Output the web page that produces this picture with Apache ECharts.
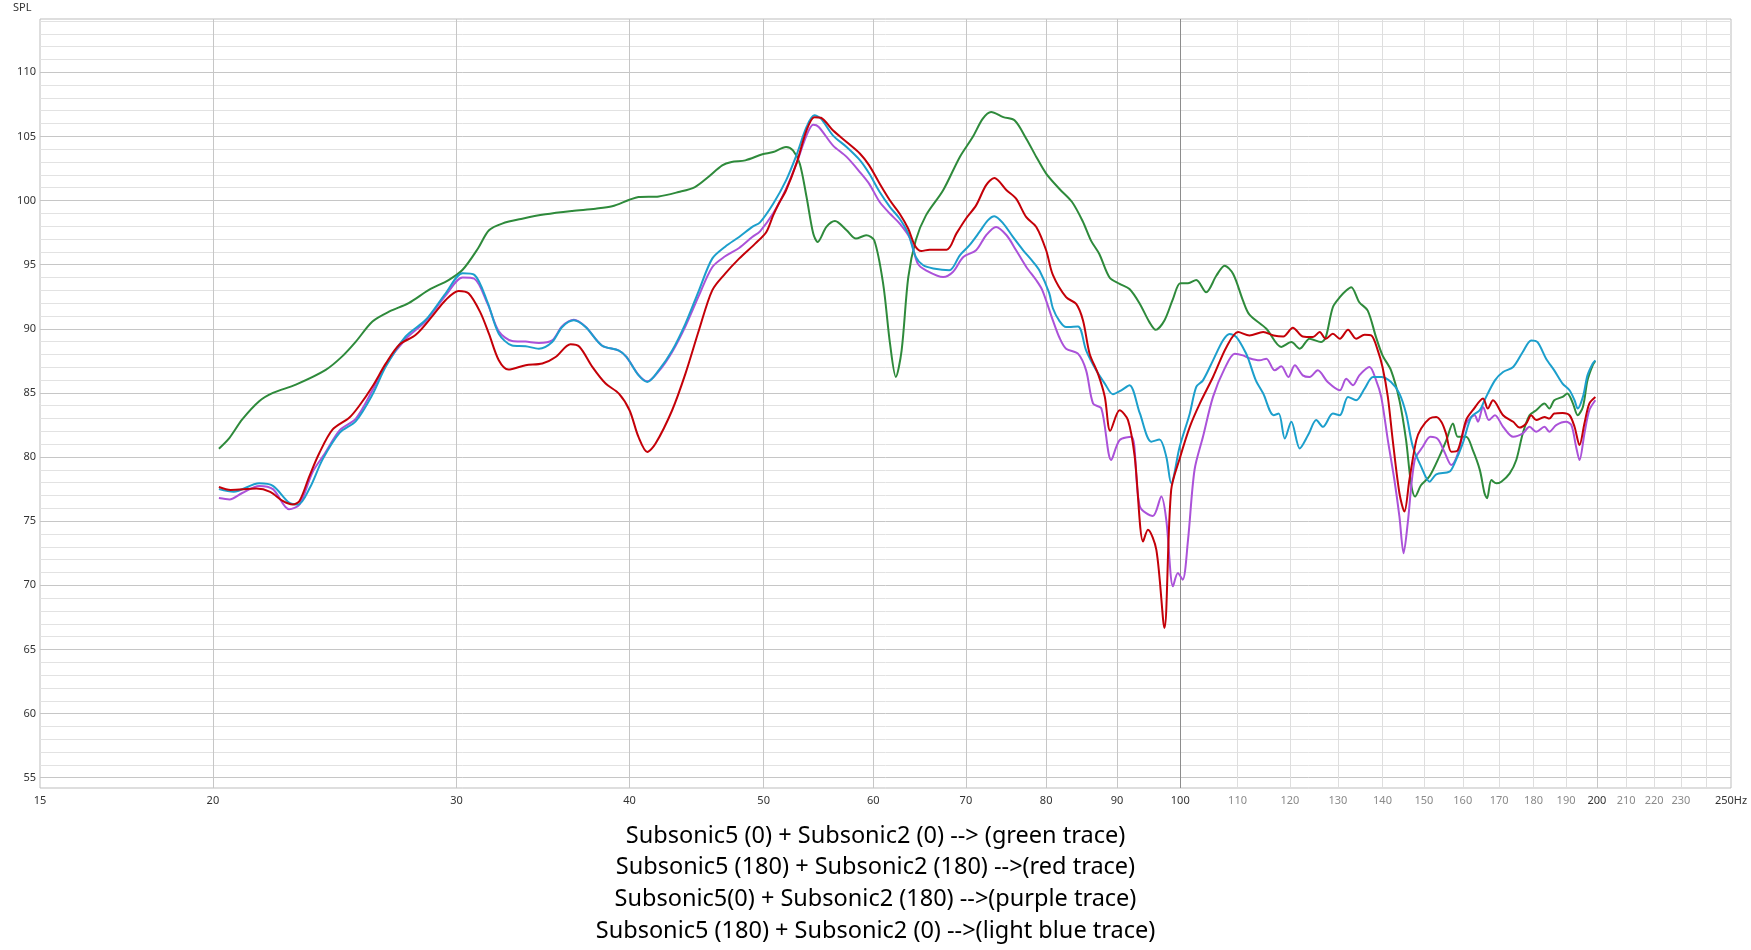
<!DOCTYPE html>
<html>
<head>
<meta charset="utf-8">
<title>Subsonic phase comparison</title>
<script src="https://cdn.jsdelivr.net/npm/echarts@6/dist/echarts.min.js"></script>
<style>
html, body { margin: 0; padding: 0; background: #fff; }
#chart { width: 1751px; height: 950px; }
</style>
</head>
<body>
<div id="chart"></div>
<script>
// SPL traces (Hz / dB)
var greenHz = [20.2,20.56,21.0,21.6,22.1,22.96,24.13,24.8,25.37,26.08,26.83,27.7,28.65,29.6,30.3,31.1,31.66,32.36,33.46,34.78,36.36,37.8,38.86,40.0,40.6,42.0,43.4,44.6,45.6,46.67,47.4,48.5,49.9,50.8,51.9,52.5,53.1,53.7,54.3,54.7,55.5,56.3,57.4,58.3,59.3,60.1,61.0,61.7,62.3,62.9,63.6,64.4,65.5,67.4,69.3,70.8,72.0,73.0,74.5,75.9,77.4,78.7,80.0,81.8,83.5,85.0,86.2,87.4,88.9,90.4,91.9,93.5,95.0,96.0,97.4,98.8,100.0,101.3,102.7,104.4,106.2,107.65,109.2,111.0,112.2,115.4,118.3,120.3,122.0,124.0,126.4,127.4,128.9,130.4,131.8,132.9,134.7,136.6,138.5,140.0,142.0,144.0,145.6,146.8,147.8,149.3,151.4,153.9,155.7,157.4,158.7,160.9,162.7,164.6,165.9,166.6,167.8,169.2,170.6,173.0,174.9,176.8,178.8,180.8,183.3,184.8,186.3,188.9,190.4,192.2,193.7,195.4,196.9,198.6,199.5];
var greenDb = [80.65,81.5,82.93,84.35,85.0,85.65,86.8,87.85,89.0,90.57,91.35,92.0,93.03,93.8,94.6,96.3,97.68,98.2,98.58,98.92,99.18,99.36,99.55,100.06,100.27,100.32,100.66,101.05,101.83,102.74,103.0,103.13,103.6,103.78,104.17,103.9,102.87,100.27,97.42,96.77,97.94,98.4,97.68,97.03,97.29,96.9,93.5,88.84,86.25,88.3,94.0,96.9,98.84,100.8,103.4,104.95,106.38,106.9,106.5,106.25,104.82,103.4,102.1,100.9,99.9,98.4,96.87,95.83,94.0,93.5,93.1,91.94,90.52,89.92,90.65,92.33,93.55,93.55,93.8,92.85,94.15,94.92,94.27,92.2,91.1,90.0,88.58,88.96,88.45,89.22,88.96,89.35,91.68,92.46,92.98,93.24,92.07,91.42,89.35,87.93,86.76,84.43,81.32,77.95,76.92,77.82,78.5,80.05,81.32,82.62,81.58,81.58,80.54,79.0,77.18,76.79,78.21,77.95,78.08,78.73,79.77,81.84,83.26,83.65,84.17,83.78,84.43,84.69,84.95,84.17,83.26,83.91,85.98,87.15,87.49];

var redHz = [20.2,20.6,21.5,22.0,22.46,22.84,23.1,23.48,23.87,24.41,25.09,25.5,26.08,26.67,27.27,28.03,28.8,29.46,30.1,30.6,31.2,31.66,32.18,32.7,33.65,34.6,35.37,36.26,36.8,37.6,38.44,39.3,40.0,40.6,41.2,41.77,42.94,43.9,44.9,45.9,46.9,48.0,49.3,50.2,50.8,51.3,51.9,52.8,53.7,54.4,55.0,56.1,57.4,58.7,59.6,60.65,61.7,62.7,63.6,64.3,65.0,65.9,67.8,68.9,70.0,71.2,72.4,73.4,74.9,76.1,77.4,78.7,80.0,80.9,82.7,84.1,85.06,86.0,87.2,88.2,89.0,90.4,91.67,92.7,94.0,94.76,96.1,97.4,98.5,100.0,101.6,103.3,105.6,108.0,110.1,112.2,114.8,116.8,118.7,120.6,122.6,124.7,126.1,127.4,128.9,130.4,132.2,134.0,135.9,137.4,138.9,140.0,141.25,142.4,144.0,145.2,146.4,148.1,149.3,151.4,153.1,154.5,155.6,157.0,158.7,160.9,162.7,165.5,166.8,168.25,171.1,174.0,175.85,177.8,179.3,180.8,183.3,184.8,186.3,188.9,191.1,192.7,194.3,195.9,197.5,199.5];
var redDb = [77.67,77.44,77.54,77.28,76.58,76.3,76.58,78.5,80.3,82.15,83.06,83.96,85.5,87.3,88.76,89.53,90.96,92.25,92.95,92.77,91.3,89.6,87.55,86.82,87.16,87.29,87.8,88.79,88.6,87.03,85.73,84.95,83.65,81.57,80.4,81.05,83.65,86.5,89.9,93.0,94.3,95.47,96.64,97.5,98.84,99.8,100.8,102.87,105.47,106.5,106.45,105.47,104.56,103.65,102.74,101.31,100.0,98.97,97.8,96.5,96.06,96.17,96.17,97.42,98.58,99.62,101.2,101.75,100.8,100.14,98.7,97.94,96.12,94.2,92.46,91.94,90.65,88.06,86.5,84.7,82.05,83.65,82.88,80.03,73.42,74.33,72.77,66.68,77.44,80.03,82.36,84.17,86.24,88.58,89.74,89.48,89.74,89.48,89.4,90.08,89.4,89.35,89.74,89.22,89.61,89.22,89.92,89.22,89.53,89.48,88.32,87.02,84.69,81.32,77.18,75.75,78.21,81.32,82.23,83.0,83.13,82.7,81.84,80.41,80.54,82.88,83.65,84.56,83.78,84.43,83.26,82.75,82.3,82.62,83.26,82.88,83.13,83.0,83.39,83.44,83.26,82.36,80.93,82.62,84.17,84.69];

var purpleHz = [20.2,20.56,21.0,21.6,22.1,22.7,23.1,23.6,24.1,24.7,25.37,26.08,26.67,27.56,28.5,29.46,30.3,30.9,31.6,32.18,32.9,33.65,34.4,35.17,35.76,36.46,37.18,38.2,39.3,39.8,40.6,41.2,42.0,42.94,43.9,44.9,45.9,46.9,48.0,49.06,49.7,50.8,51.9,52.8,53.7,54.3,54.8,56.1,57.4,58.7,59.6,60.65,61.7,62.7,63.8,64.6,65.5,67.4,68.5,69.7,71.2,72.4,73.6,74.9,76.1,77.4,78.7,79.5,80.9,81.8,82.7,84.35,85.5,86.5,87.7,89.15,90.4,92.2,93.5,95.55,96.9,97.7,98.8,99.6,100.4,101.3,102.4,103.85,105.6,107.65,109.5,111.0,112.2,114.1,115.4,117.0,118.3,119.7,121.0,122.6,124.0,125.7,127.8,130.4,131.8,133.3,134.7,137.0,138.5,139.7,141.25,142.8,144.0,145.0,146.0,147.7,149.7,151.6,153.5,155.2,157.0,158.7,160.9,163.2,164.1,165.5,167.1,168.8,171.1,174.0,176.8,178.8,180.8,183.3,184.8,186.9,190.0,191.7,193.2,194.3,195.9,197.5,199.5];
var purpleDb = [76.8,76.7,77.2,77.75,77.5,75.93,76.3,78.8,80.3,82.1,83.0,85.2,87.2,89.2,90.6,92.6,94.0,93.9,91.9,89.8,89.05,89.0,88.9,89.1,90.2,90.7,90.15,88.7,88.3,87.8,86.4,85.9,86.7,88.2,90.2,92.6,94.8,95.65,96.3,97.16,97.6,99.0,100.9,102.87,105.08,105.9,105.73,104.3,103.4,102.2,101.3,99.88,98.97,98.2,97.03,95.1,94.56,94.04,94.43,95.6,96.12,97.29,97.94,97.29,96.12,94.82,93.78,93.0,90.66,89.3,88.45,88.06,86.76,84.17,83.78,79.77,81.32,81.58,76.14,75.41,76.92,75.1,69.92,70.96,70.44,73.55,78.99,81.58,84.69,86.89,88.06,87.93,87.7,87.54,87.67,86.76,87.07,86.24,87.15,86.37,86.24,86.76,85.85,85.2,86.11,85.6,86.37,87.02,86.0,84.69,81.32,78.21,75.36,72.51,74.84,79.77,80.8,81.58,81.4,80.4,79.38,80.28,82.62,83.26,82.75,83.91,82.88,83.26,82.36,81.58,81.84,82.36,81.97,82.36,81.97,82.49,82.75,82.49,80.8,79.77,81.84,83.65,84.43];

var blueHz = [20.2,20.7,21.6,22.1,22.7,23.05,23.5,24.0,24.7,25.37,26.08,26.67,27.56,28.5,29.46,30.3,30.9,31.6,32.18,32.9,33.65,34.4,35.17,35.76,36.46,37.18,38.2,39.3,39.8,40.6,41.2,42.0,42.94,43.9,44.9,45.9,46.9,48.0,49.06,49.7,50.8,51.9,52.8,53.7,54.4,55.0,56.1,57.4,58.7,59.6,60.65,61.7,62.7,63.6,64.4,65.2,66.3,68.1,69.3,70.4,71.6,72.6,73.4,74.5,75.7,77.0,78.3,79.15,80.4,80.9,81.8,82.7,84.35,85.5,86.95,88.2,89.4,90.66,91.9,93.5,95.3,96.6,97.7,98.5,99.9,101.6,102.7,103.85,105.6,107.35,108.55,109.8,111.6,112.2,113.4,114.8,116.8,117.8,119.0,120.3,122.0,123.7,125.4,126.8,128.9,130.4,132.2,134.0,135.9,137.8,139.7,142.0,144.0,145.6,147.25,149.3,151.4,153.1,156.5,157.8,160.0,162.3,164.6,165.9,168.8,171.1,174.0,176.8,179.3,181.2,183.8,186.3,188.9,191.1,192.7,193.7,195.4,196.9,198.6,199.5];
var blueDb = [77.5,77.3,77.95,77.75,76.45,76.3,77.6,79.8,81.9,82.8,84.87,87.07,89.4,90.7,92.77,94.33,94.2,92.0,89.62,88.7,88.64,88.45,88.97,90.14,90.66,90.14,88.7,88.3,87.8,86.38,85.86,86.77,88.3,90.4,93.0,95.47,96.4,97.16,97.94,98.3,99.75,101.57,103.52,105.73,106.64,106.38,105.08,104.17,103.13,102.1,100.66,99.49,98.58,97.42,95.6,94.95,94.7,94.56,95.73,96.5,97.55,98.45,98.77,98.2,97.16,96.12,95.2,94.5,92.8,91.6,90.6,90.13,90.18,88.32,86.76,85.73,84.9,85.2,85.6,83.4,81.2,81.37,80.03,77.95,80.8,83.4,85.47,85.98,87.54,89.09,89.6,89.35,88.06,87.4,85.98,84.95,83.26,83.39,81.45,82.75,80.67,81.71,82.88,82.36,83.39,83.26,84.69,84.43,85.34,86.24,86.24,85.85,84.95,83.39,80.8,79.25,78.08,78.65,78.86,79.5,81.06,83.13,83.65,84.43,85.98,86.63,87.02,88.19,89.09,88.96,87.67,86.76,85.73,85.21,84.43,83.78,84.69,86.37,87.28,87.54];

// axis ticks
var xLabelHz = [15,20,30,40,50,60,70,80,90,100,110,120,130,140,150,160,170,180,190,200,210,220,230,250];
var xGridHz = [20,30,40,50,60,70,80,90,100,110,120,130,140,150,160,170,180,190,200,210,220,230,240];
var yLabelDb = [55,60,65,70,75,80,85,90,95,100,105,110];

var legendLines = [
	'Subsonic5 (0) + Subsonic2 (0) --> (green trace)',
	'Subsonic5 (180) + Subsonic2 (180) -->(red trace)',
	'Subsonic5(0) + Subsonic2 (180) -->(purple trace)',
	'Subsonic5 (180) + Subsonic2 (0) -->(light blue trace)'
];

function pairs(hz, db){
	var out = [];
	for (var i = 0; i < hz.length; i++) out.push([hz[i], db[i]]);
	return out;
}

// one split line per dB, every 5th one darker
var yGridDb = [];
for (var d = 55; d <= 114; d++) yGridDb.push(d);

function isStrongHz(v){ return v <= 100 || v == 200 || v == 250; }

var xGridColors = xGridHz.map(function(v){
	if (v == 100) return '#8c8c8c';
	if (v < 100 || v == 200) return '#c6c6c6';
	return '#dedede';
});

var font = 'Noto Sans';

function trace(name, color, hz, db){
	return {
		name: name,
		type: 'line',
		data: pairs(hz, db),
		showSymbol: false,
		smooth: 0.3,
		lineStyle: { color: color, width: 2 },
		itemStyle: { color: color },
		animation: false
	};
}

var chart = echarts.init(document.getElementById('chart'));
chart.setOption({
	backgroundColor: '#fff',
	animation: false,
	title: {
		text: legendLines.join('\n'),
		left: 'center',
		top: 815,
		textStyle: { fontFamily: font, fontSize: 23.5, fontWeight: 'normal', color: '#000', lineHeight: 31.7 }
	},
	graphic: [{
		type: 'text', left: 13, top: 2,
		style: { text: 'SPL', fontFamily: font, fontSize: 11, fill: '#333' }
	}],
	grid: {
		left: 40, right: 20, top: 19, bottom: 162,
		show: true, borderColor: '#bdbdbd', borderWidth: 1
	},
	xAxis: {
		type: 'log', logBase: 10, min: 15, max: 250,
		axisLine: { show: false },
		axisTick: { show: false, customValues: xGridHz },
		splitLine: { show: true, lineStyle: { color: xGridColors, width: 1 } },
		minorSplitLine: { show: false },
		axisLabel: {
			customValues: xLabelHz,
			margin: 7,
			fontFamily: font, fontSize: 11,
			formatter: function(v){ return +v == 250 ? '250Hz' : String(Math.round(+v)); },
			color: function(v){ return isStrongHz(Math.round(+v)) ? '#333' : '#8a8a8a'; }
		}
	},
	yAxis: {
		type: 'value', min: 54.2, max: 114.15,
		axisLine: { show: false },
		axisTick: { show: false, customValues: yGridDb },
		splitLine: { show: true, lineStyle: { color: ['#c6c6c6', '#e2e2e2', '#e2e2e2', '#e2e2e2', '#e2e2e2'], width: 1 } },
		axisLabel: {
			customValues: yLabelDb,
			margin: 4,
			fontFamily: font, fontSize: 11, color: '#333'
		}
	},
	series: [
		trace('green', '#2e8a3b', greenHz, greenDb),
		trace('purple', '#ab52d9', purpleHz, purpleDb),
		trace('light blue', '#1c9fcc', blueHz, blueDb),
		trace('red', '#c40008', redHz, redDb)
	]
});
</script>
</body>
</html>
